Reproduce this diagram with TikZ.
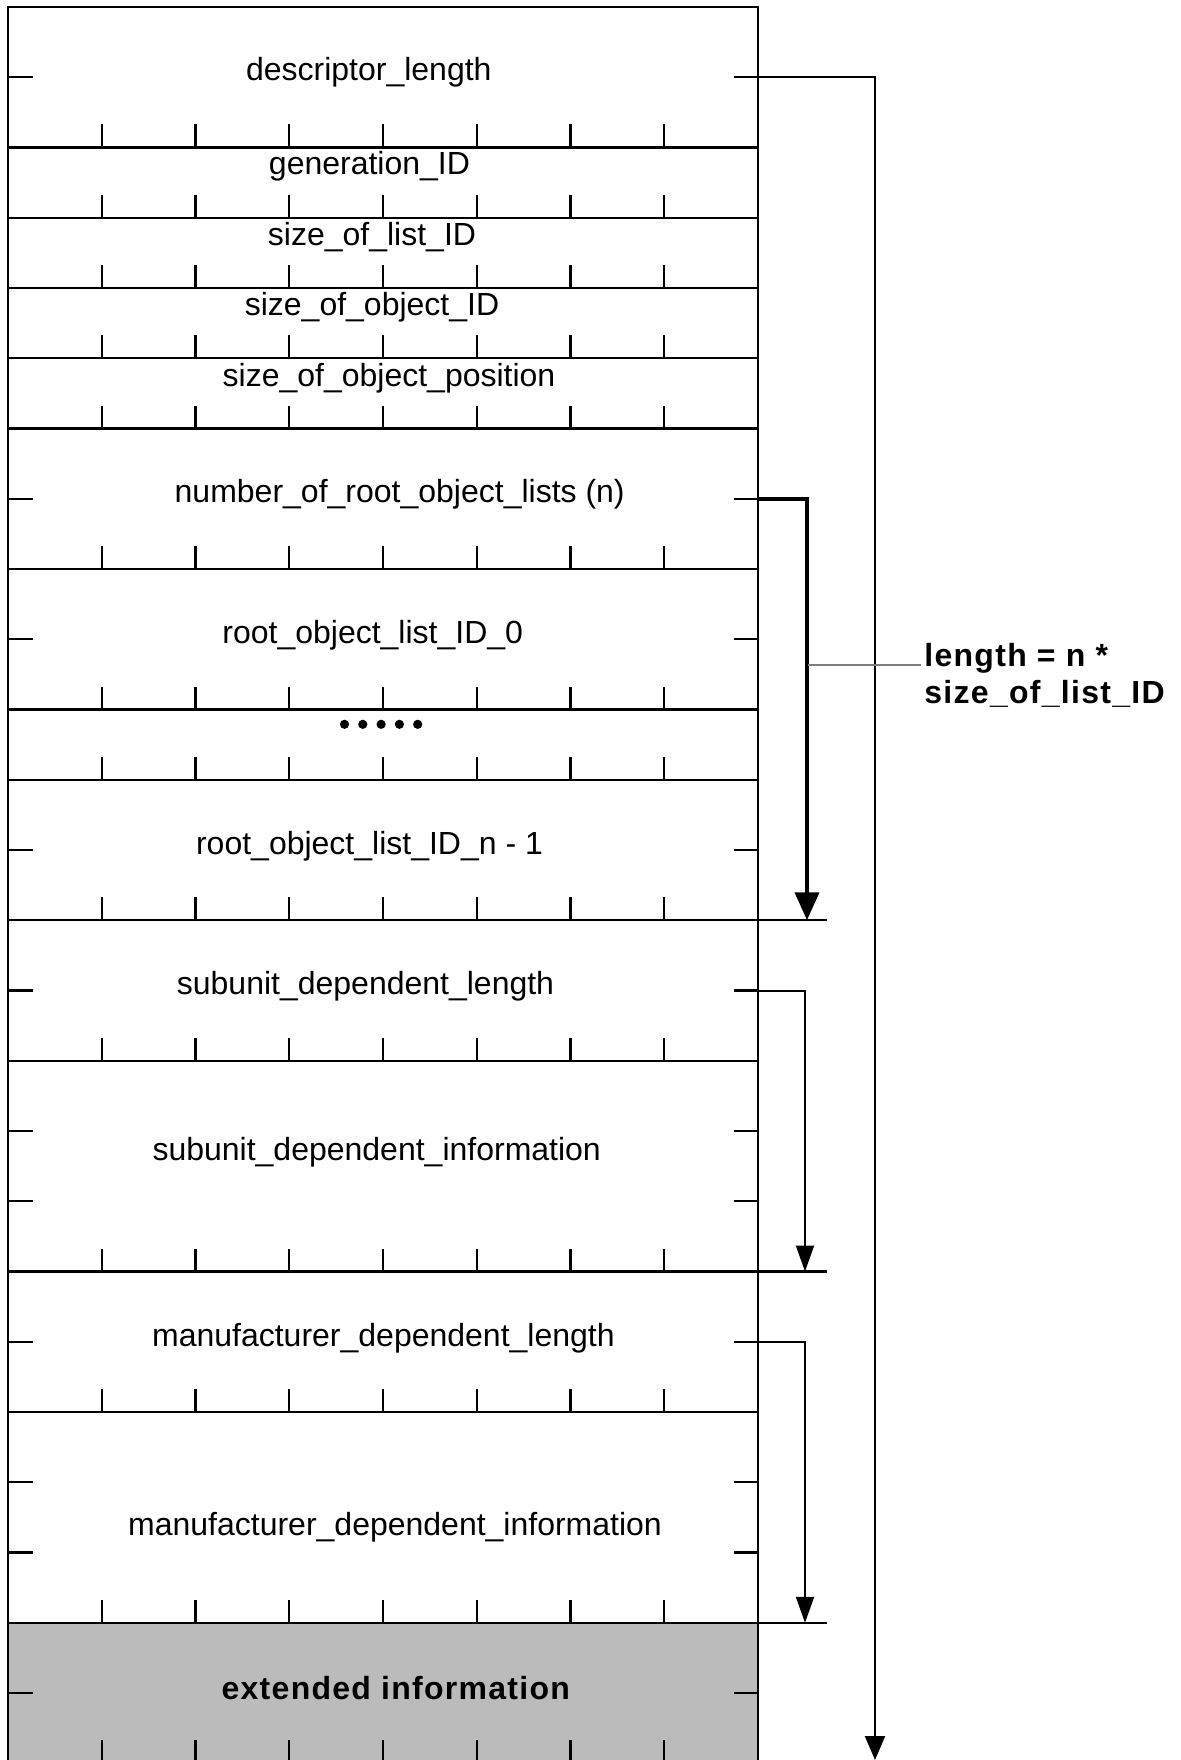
\documentclass[tikz,border=0pt]{standalone}
\usepackage{fontspec}
\setmainfont{Liberation Sans}
\usetikzlibrary{arrows.meta}
\definecolor{extfill}{RGB}{187,187,187}
\definecolor{labelgray}{RGB}{125,125,125}
\begin{document}
\begin{tikzpicture}[x=0.5pt,y=-0.5pt,
  grid/.style={line width=1.15pt,line cap=butt},
  fieldtext/.style={font=\fontsize{16}{19}\selectfont,inner sep=0pt,anchor=base},
  boldtext/.style={font=\fontsize{16}{19}\selectfont\bfseries\addfontfeatures{LetterSpace=4},inner sep=0pt},
  thinarrow/.style={line width=1pt,line join=miter,-{Triangle[length=13pt,width=9pt]}},
  thickarrow/.style={line width=2pt,line join=miter,-{Triangle[length=14pt,width=12pt]}},
  longarrow/.style={line width=1pt,line join=miter,-{Triangle[length=12pt,width=10pt]}},
  grayline/.style={line width=0.9pt,draw=labelgray},
  dotmark/.style={fill=black}]
\useasboundingbox (0,0) rectangle (1181,1760);
\clip (0,0) rectangle (1181,1760);

% shaded extended information field
\fill[extfill] (8,1622.75) rectangle (758,1775);

% row separators inside the box
\foreach \y in {147.5,217.75,288,358.25,428.5,569,709.5,779.75,1060.75,1412}
  \draw[grid] (8,\y) -- (758,\y);
% row separators that extend past the box
\foreach \y in {920.25,1271.5,1622.75}
  \draw[grid] (8,\y) -- (827,\y);
% outer box
\draw[grid] (8,1775) -- (8,7) -- (758,7) -- (758,1775);

% byte ticks at the bottom of every row
\foreach \y in {147.5,217.75,288,358.25,428.5,569,709.5,779.75,920.25,1060.75,1271.5,1412,1622.75,1763.25}
  \foreach \k in {1,...,7}
    \draw[grid] (8+\k*93.75,\y) -- ++(0,-23);

% side ticks
\foreach \y in {77.25,498.75,639.25,850,990.5,1131,1201.25,1341.75,1482.25,1552.5,1693}{
  \draw[grid] (8,\y) -- (33,\y);
  \draw[grid] (734,\y) -- (758,\y);
}

% field names
\node[fieldtext] (fdl)  at (368.8,81)   {descriptor\_length};
\node[fieldtext] (fgen) at (369.5,174.5) {generation\_ID};
\node[fieldtext] (fsl)  at (372,246)    {size\_of\_list\_ID};
\node[fieldtext] (fso)  at (372,315.5)  {size\_of\_object\_ID};
\node[fieldtext] (fsp)  at (389,386)    {size\_of\_object\_position};
\node[fieldtext] (fnum) at (399.7,502.5) {number\_of\_root\_object\_lists (n)};
\node[fieldtext] (fr0)  at (372.7,643)  {root\_object\_list\_ID\_0};
\node[fieldtext] (frn)  at (369.5,854)  {root\_object\_list\_ID\_n - 1};
\node[fieldtext] (fsdl) at (365.5,994)  {subunit\_dependent\_length};
\node[fieldtext] (fsdi) at (376.7,1160) {subunit\_dependent\_information};
\node[fieldtext] (fmdl) at (383.4,1346) {manufacturer\_dependent\_length};
\node[fieldtext] (fmdi) at (395,1535)   {manufacturer\_dependent\_information};
\node[boldtext,anchor=base] (fext) at (395.8,1699) {extended information};

% ellipsis dots
\foreach \k in {0,...,4}
  \fill[dotmark] (344.5+\k*18.3,724.3) circle[radius=4.6];

% length arrows
\coordinate (dS) at (758,77.25);
\coordinate (dC) at (875,77.25);
\coordinate (dE) at (875,1760);
\draw[longarrow] (dS) -- (dC) -- (dE);

\coordinate (nS) at (758,498.75);
\coordinate (nC) at (807,498.75);
\coordinate (nE) at (807,920.25);
\draw[thickarrow] (nS) -- (nC) -- (nE);

\coordinate (sS) at (758,990.5);
\coordinate (sC) at (805,990.5);
\coordinate (sE) at (805,1271.5);
\draw[thinarrow] (sS) -- (sC) -- (sE);

\coordinate (mS) at (758,1341.75);
\coordinate (mC) at (805,1341.75);
\coordinate (mE) at (805,1622.75);
\draw[thinarrow] (mS) -- (mC) -- (mE);

% label for the root object list length
\node[boldtext,anchor=base west] (lenA) at (924,666) {length = n *};
\node[boldtext,anchor=base west] (lenB) at (924,703) {size\_of\_list\_ID};
\coordinate (gA) at (808,664.6);
\coordinate (gB) at (921,664.6);
\draw[grayline] (gA) -- (gB);
\end{tikzpicture}
\end{document}
